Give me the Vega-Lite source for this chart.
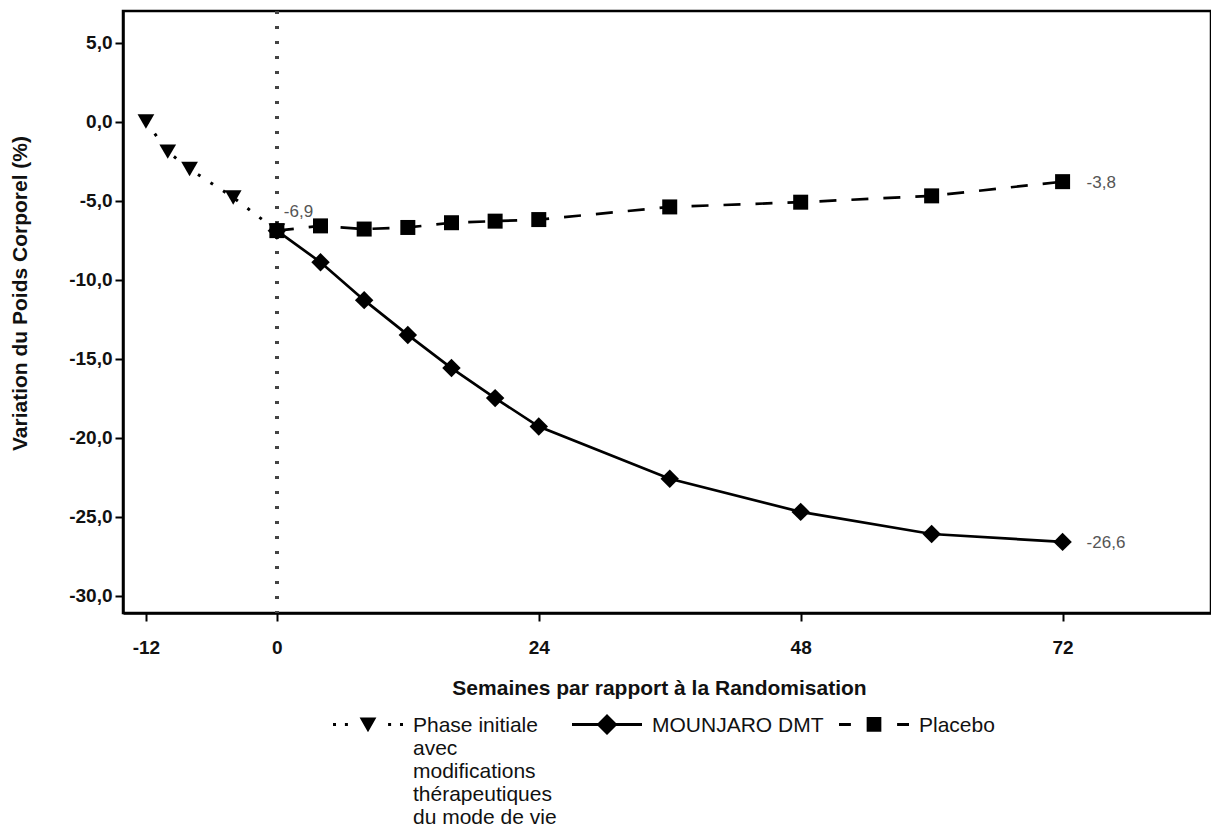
{
  "$schema": "https://vega.github.io/schema/vega-lite/v6.json",
  "width": 1088,
  "height": 602,
  "autosize": {"type": "none"},
  "padding": {"left": 123, "top": 11, "right": 0, "bottom": 223},
  "background": "white",
  "config": {
    "font": "Liberation Sans",
    "view": {"stroke": "black", "strokeWidth": 2.5},
    "axis": {
      "grid": false,
      "domainColor": "black",
      "domainWidth": 2.5,
      "tickColor": "black",
      "tickWidth": 2,
      "tickSize": 8,
      "labelFont": "Liberation Sans",
      "labelFontSize": 19,
      "labelFontWeight": "bold",
      "labelColor": "#111",
      "titleFont": "Liberation Sans",
      "titleFontSize": 21,
      "titleFontWeight": "bold",
      "titleColor": "#111"
    }
  },
  "datasets": {
    "series": [
      {"series": "Phase initiale", "week": -12, "value": 0.0},
      {"series": "Phase initiale", "week": -10, "value": -1.9},
      {"series": "Phase initiale", "week": -8, "value": -3.0},
      {"series": "Phase initiale", "week": -4, "value": -4.8},
      {"series": "Phase initiale", "week": 0, "value": -6.9},
      {"series": "Placebo", "week": 0, "value": -6.9},
      {"series": "Placebo", "week": 4, "value": -6.6},
      {"series": "Placebo", "week": 8, "value": -6.8},
      {"series": "Placebo", "week": 12, "value": -6.7},
      {"series": "Placebo", "week": 16, "value": -6.4},
      {"series": "Placebo", "week": 20, "value": -6.3},
      {"series": "Placebo", "week": 24, "value": -6.2},
      {"series": "Placebo", "week": 36, "value": -5.4},
      {"series": "Placebo", "week": 48, "value": -5.1},
      {"series": "Placebo", "week": 60, "value": -4.7},
      {"series": "Placebo", "week": 72, "value": -3.8},
      {"series": "MOUNJARO DMT", "week": 0, "value": -6.9},
      {"series": "MOUNJARO DMT", "week": 4, "value": -8.9},
      {"series": "MOUNJARO DMT", "week": 8, "value": -11.3},
      {"series": "MOUNJARO DMT", "week": 12, "value": -13.5},
      {"series": "MOUNJARO DMT", "week": 16, "value": -15.6},
      {"series": "MOUNJARO DMT", "week": 20, "value": -17.5},
      {"series": "MOUNJARO DMT", "week": 24, "value": -19.3},
      {"series": "MOUNJARO DMT", "week": 36, "value": -22.6},
      {"series": "MOUNJARO DMT", "week": 48, "value": -24.7},
      {"series": "MOUNJARO DMT", "week": 60, "value": -26.1},
      {"series": "MOUNJARO DMT", "week": 72, "value": -26.6}
    ],
    "labels": [
      {"week": 0, "value": -6.9, "label": "-6,9"},
      {"week": 72, "value": -3.8, "label": "-3,8"},
      {"week": 72, "value": -26.6, "label": "-26,6"}
    ]
  },
  "data": {"name": "series"},
  "layer": [
    {
      "mark": {"type": "rule", "color": "#444", "strokeWidth": 3, "strokeDash": [3, 12]},
      "encoding": {"x": {"datum": 0, "type": "quantitative"}}
    },
    {
      "transform": [{"filter": "datum.series == 'Phase initiale'"}],
      "mark": {"type": "line", "color": "black", "strokeWidth": 3, "strokeDash": [3, 12]},
      "encoding": {
        "x": {
          "field": "week", "type": "quantitative",
          "scale": {"domain": [-14.1, 85.6], "nice": false, "zero": false},
          "axis": {
            "values": [-12, 0, 24, 48, 72],
            "labelPadding": 17,
            "labelExpr": "replace(format(datum.value, 'd'), '−', '-')",
            "title": "Semaines par rapport à la Randomisation",
            "titleX": 536, "titleY": 75, "titleAlign": "center", "titleBaseline": "middle"
          }
        },
        "y": {
          "field": "value", "type": "quantitative",
          "scale": {"domain": [-31.1, 7.0], "nice": false, "zero": false},
          "axis": {
            "values": [5, 0, -5, -10, -15, -20, -25, -30],
            "labelPadding": 3,
            "labelExpr": "replace(replace(format(datum.value, '.1f'), '.', ','), '−', '-')",
            "title": "Variation du Poids Corporel (%)",
            "titleX": -103, "titleY": 282, "titleAlign": "center", "titleBaseline": "middle", "titleAngle": -90
          }
        }
      }
    },
    {
      "transform": [{"filter": "datum.series == 'Placebo'"}],
      "mark": {"type": "line", "color": "black", "strokeWidth": 2.7, "strokeDash": [17, 15]},
      "encoding": {"x": {"field": "week", "type": "quantitative"}, "y": {"field": "value", "type": "quantitative"}}
    },
    {
      "transform": [{"filter": "datum.series == 'MOUNJARO DMT'"}],
      "mark": {"type": "line", "color": "black", "strokeWidth": 2.7},
      "encoding": {"x": {"field": "week", "type": "quantitative"}, "y": {"field": "value", "type": "quantitative"}}
    },
    {
      "transform": [{"filter": "datum.series == 'Phase initiale'"}],
      "mark": {"type": "point", "shape": "triangle-down", "filled": true, "color": "black", "opacity": 1, "size": 280},
      "encoding": {"x": {"field": "week", "type": "quantitative"}, "y": {"field": "value", "type": "quantitative"}}
    },
    {
      "transform": [{"filter": "datum.series == 'Placebo'"}],
      "mark": {"type": "point", "shape": "square", "filled": true, "color": "black", "opacity": 1, "size": 225},
      "encoding": {"x": {"field": "week", "type": "quantitative"}, "y": {"field": "value", "type": "quantitative"}}
    },
    {
      "transform": [{"filter": "datum.series == 'MOUNJARO DMT'"}],
      "mark": {"type": "point", "shape": "diamond", "filled": true, "color": "black", "opacity": 1, "size": 340},
      "encoding": {"x": {"field": "week", "type": "quantitative"}, "y": {"field": "value", "type": "quantitative"}}
    },
    {
      "mark": {"type": "point", "filled": true, "color": "black", "size": 0},
      "encoding": {
        "x": {"field": "week", "type": "quantitative"},
        "y": {"field": "value", "type": "quantitative"},
        "shape": {
          "field": "series", "type": "nominal",
          "scale": {
            "domain": ["Phase initiale", "MOUNJARO DMT", "Placebo"],
            "range": [
              "M-1,0.227L-0.914,0.227L-0.914,0.313L-1,0.313Z M-0.66,0.227L-0.574,0.227L-0.574,0.313L-0.66,0.313Z M0.574,0.227L0.66,0.227L0.66,0.313L0.574,0.313Z M0.914,0.227L1,0.227L1,0.313L0.914,0.313Z M-0.24,0.07L0.24,0.07L0,0.49Z",
              "M-1,0.227L1,0.227L1,0.313L-1,0.313Z M-0.3,0.27L0,-0.03L0.3,0.27L0,0.57Z",
              "M-1,0.227L-0.66,0.227L-0.66,0.313L-1,0.313Z M-0.21,0.06L0.21,0.06L0.21,0.48L-0.21,0.48Z M0.66,0.227L1,0.227L1,0.313L0.66,0.313Z"
            ]
          },
          "legend": {
            "orient": "none",
            "legendX": 210,
            "legendY": 669,
            "direction": "horizontal",
            "title": null,
            "padding": 0,
            "symbolSize": 4900,
            "symbolFillColor": "black",
            "symbolStrokeWidth": 0,
            "symbolOpacity": 1,
            "labelFont": "Liberation Sans",
            "labelFontSize": 21,
            "labelColor": "#111",
            "labelOffset": 10,
            "labelLimit": 500,
            "labelBaseline": "top",
            "columnPadding": 15,
            "labelExpr": "datum.label == 'Phase initiale' ? ['Phase initiale', 'avec', 'modifications', 'thérapeutiques', 'du mode de vie'] : [datum.label, '', '', '', '']",
            "encode": {
              "labels": {"lineHeight": {"value": 24}}
            }
          }
        }
      }
    },
    {
      "data": {"name": "labels"},
      "transform": [{"filter": "datum.week == 0"}],
      "mark": {"type": "text", "align": "left", "dx": 7, "dy": -19, "fontSize": 17, "color": "#555", "font": "Liberation Sans"},
      "encoding": {
        "x": {"field": "week", "type": "quantitative"},
        "y": {"field": "value", "type": "quantitative"},
        "text": {"field": "label"}
      }
    },
    {
      "data": {"name": "labels"},
      "transform": [{"filter": "datum.week == 72"}],
      "mark": {"type": "text", "align": "left", "dx": 24, "dy": 1, "fontSize": 17, "color": "#555", "font": "Liberation Sans"},
      "encoding": {
        "x": {"field": "week", "type": "quantitative"},
        "y": {"field": "value", "type": "quantitative"},
        "text": {"field": "label"}
      }
    }
  ]
}
